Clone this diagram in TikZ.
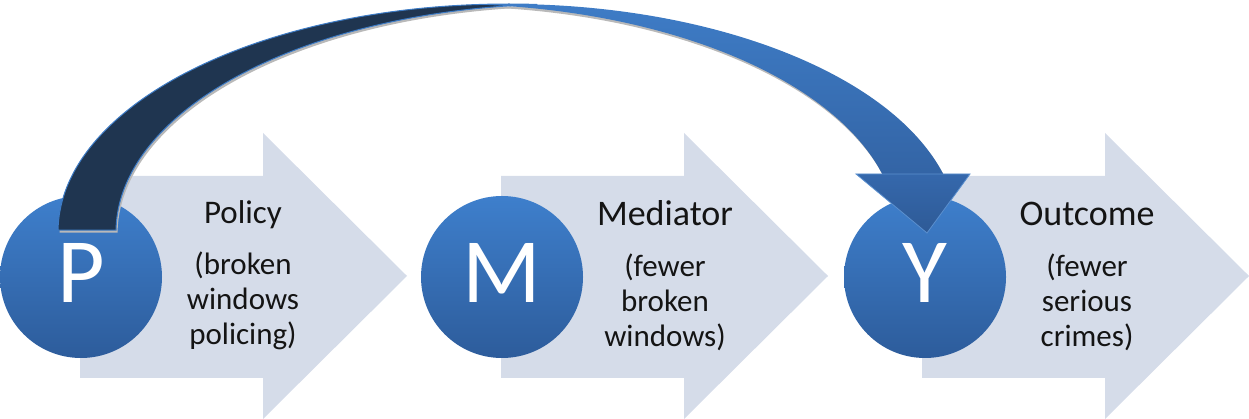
\documentclass[tikz,border=0pt]{standalone}
\usepackage{fontspec}
\setmainfont{Carlito}
\definecolor{arrowfill}{RGB}{213,220,233}
\definecolor{circtop}{RGB}{62,127,204}
\definecolor{circbot}{RGB}{45,92,155}
\definecolor{backband}{RGB}{31,53,80}
\definecolor{bandtop}{RGB}{62,124,198}
\definecolor{bandbot}{RGB}{51,100,165}
\definecolor{headtop}{RGB}{53,104,172}
\definecolor{headbot}{RGB}{46,90,150}
\definecolor{textcol}{RGB}{20,20,20}
\definecolor{shadowcol}{RGB}{185,185,185}
\begin{document}
\begin{tikzpicture}[x=1pt,y=1pt,
  blockarrow/.style={fill=arrowfill},
  letternode/.style={circle, minimum size=162pt, inner sep=0pt, top color=circtop, bottom color=circbot, text=white, font=\fontsize{92}{92}\selectfont, text depth=8pt},
  titletext/.style={text=textcol, anchor=base, inner sep=0pt},
  subtext/.style={text=textcol, align=center, anchor=base, inner sep=0pt, font=\fontsize{31}{35}\selectfont}]
\useasboundingbox (0,0) rectangle (1249,419);

% block arrows
\foreach \k in {0,1,2}{
  \fill[blockarrow] ({80+421*\k},41) -- ({263+421*\k},41) -- ({263+421*\k},0) -- ({407+421*\k},143)
     -- ({263+421*\k},286) -- ({263+421*\k},243) -- ({80+421*\k},243) -- cycle;
}

% circles
\node[letternode] (P) at (81,142) {P};
\node[letternode] (M) at (502,142) {M};
\node[letternode] (Y) at (925,142) {Y};

% curved arrow from P to Y: shadows
\fill[shadowcol, shift={(1.5,-2.5)}] plot[domain=179.5:86.3, samples=80] ({508+450*cos(\x)},{187+228*sin(\x)})
   -- plot[domain=93.7:179.5, samples=80] ({566+450*cos(\x)},{187+228*sin(\x)}) -- cycle;
\fill[shadowcol, shift={(1.5,-2.5)}] plot[domain=93.9:14.48, samples=80] ({508+450*cos(\x)},{187+228*sin(\x)})
   -- plot[domain=14.48:86.1, samples=80] ({447+450*cos(\x)},{187+228*sin(\x)}) -- cycle;
% back (dark) part
\path[fill=backband, draw=bandtop, line width=1pt] plot[domain=179.5:86.3, samples=80] ({508+450*cos(\x)},{187+228*sin(\x)})
   -- plot[domain=93.7:179.5, samples=80] ({566+450*cos(\x)},{187+228*sin(\x)}) -- cycle;
% front (blue) part
\path[top color=bandtop, bottom color=bandbot] plot[domain=93.9:14.48, samples=80] ({508+450*cos(\x)},{187+228*sin(\x)})
   -- plot[domain=14.48:86.1, samples=80] ({447+450*cos(\x)},{187+228*sin(\x)}) -- cycle;
% head
\coordinate (headtip) at (927,186);
\path[top color=headtop, bottom color=headbot, draw=bandtop!85!white, line width=0.8pt]
   (856,245) -- (970,245) -- (headtip) -- cycle;

% texts
\node[titletext, font=\fontsize{33}{35}\selectfont] (Pt) at (243,195) {Policy};
\node[subtext] (Ps) at (243,74) {(broken\\windows\\policing)};
\node[titletext, font=\fontsize{36}{38}\selectfont] (Mt) at (665,193) {Mediator};
\node[subtext] (Ms) at (665,72) {(fewer\\broken\\windows)};
\node[titletext, font=\fontsize{36}{38}\selectfont] (Yt) at (1087,193) {Outcome};
\node[subtext] (Ys) at (1087,72) {(fewer\\serious\\crimes)};
\end{tikzpicture}
\end{document}
